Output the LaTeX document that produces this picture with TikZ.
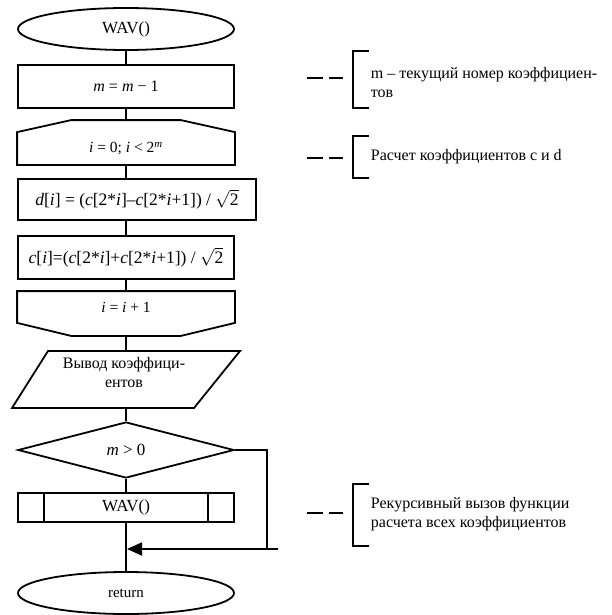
\documentclass[tikz,border=0pt]{standalone}
\usepackage{fontspec}
\setmainfont{Liberation Serif}
\usetikzlibrary{shapes.geometric,arrows.meta,calc}

\newcommand{\fs}[1]{\fontsize{#1}{19}\selectfont}

\begin{document}
\begin{tikzpicture}[x=1pt, y=-1pt, line width=1.8pt,
  every node/.style={font=\fs{16}, inner sep=0pt, line width=1.8pt},
  term/.style={ellipse, draw, minimum width=216pt, minimum height=42pt},
  proc/.style={rectangle, draw, minimum width=216pt, minimum height=43pt},
  shell/.style={rectangle, minimum width=216pt},
  decide/.style={diamond, draw, minimum width=216pt, minimum height=56pt},
  note/.style={anchor=west, align=left},
  flow/.style={line width=1.8pt},
  bracket/.style={line width=1.8pt},
  leader/.style={line width=1.8pt, dash pattern=on 16pt off 6pt},
  tip/.style={-{Triangle[length=15pt, width=13pt]}}]

\useasboundingbox (0,0) rectangle (612,615);

% --- blocks of the flowchart ---
\node[term, font=\fs{17}] (start) at (126,29) {WAV()};
\node[proc] (r1) at (126,86.5) {\textit{m} = \textit{m} − 1};

% loop start: body plus a chevron roof
\node[shell, minimum height=31pt, font=\fs{15.5}] (lp1) at (126,148.5)
  {\textit{i} = 0; \textit{i} < 2\textsuperscript{\textit{m}}};
\draw (lp1.south west) -- (lp1.north west) -- ($(lp1.north west)+(54,-12)$)
  -- ($(lp1.north east)+(-54,-12)$) -- (lp1.north east) -- (lp1.south east) -- cycle;
\coordinate (lp1top) at ($(lp1.north)+(0,-12)$);

\node[proc, minimum width=238pt, minimum height=41pt, font=\fs{17.5}] (dd) at (137,199.5)
  {\textit{d}[\textit{i}] = (\textit{c}[2*\textit{i}]–\textit{c}[2*\textit{i}+1]) / $\sqrt{\mbox{2}}$};
\node[proc, font=\fs{17.5}] (cc) at (126,257.5)
  {\textit{c}[\textit{i}]=(\textit{c}[2*\textit{i}]+\textit{c}[2*\textit{i}+1]) / $\sqrt{\mbox{2}}$};

% loop end: body plus a chevron floor
\node[shell, minimum height=30pt, font=\fs{15.5}] (lp2) at (126,307) {\textit{i} = \textit{i} + 1};
\draw (lp2.north west) -- (lp2.south west) -- ($(lp2.south west)+(54,13)$)
  -- ($(lp2.south east)+(-54,13)$) -- (lp2.south east) -- (lp2.north east) -- cycle;
\coordinate (lp2bot) at ($(lp2.south)+(0,13)$);

% output block (parallelogram), text sits in its upper part
\node[align=center] (out) at (124,372.5) {Вывод коэффици-\\ентов};
\draw ($(out.center)+(-76,-21.5)$) -- ($(out.center)+(116,-21.5)$)
  -- ($(out.center)+(70,35.5)$) -- ($(out.center)+(-112,35.5)$) -- cycle;
\coordinate (outtop) at ($(lp2bot)+(0,15)$);
\coordinate (outbot) at ($(out.center)+(2,35.5)$);

\node[decide, font=\fs{17}] (dec) at (126,450) {\textit{m} > 0};

% predefined process
\node[proc, minimum height=29pt, font=\fs{17}] (sub) at (126,507.5) {WAV()};
\draw ($(sub.north west)+(27,0)$) -- ($(sub.south west)+(27,0)$);
\draw ($(sub.north east)+(-27,0)$) -- ($(sub.south east)+(-27,0)$);

\node[term, font=\fs{15}] (ret) at (126,593) {return};

% --- connectors ---
\draw[flow] (start.south) -- (r1.north);
\draw[flow] (r1.south) -- (lp1top);
\draw[flow] (lp1.south) -- (lp1.south |- dd.north);
\draw[flow] (lp1.south |- dd.south) -- (cc.north);
\draw[flow] (cc.south) -- (lp2.north);
\draw[flow] (lp2bot) -- (outtop);
\draw[flow] (outbot) -- (dec.north);
\draw[flow] (dec.south) -- (sub.north);
\draw[flow] (sub.south) -- (ret.north);

\coordinate (br) at (267,450);
\coordinate (bd) at (267,549);
\coordinate (stub) at (278,549);
\coordinate (join) at (127,549);
\draw[flow] (dec.east) -- (br) -- (bd);
\draw[flow, tip] (stub) -- (join);

% --- comments ---
\node[note] (n1) at (370,82.5) {m – текущий номер коэффициен-\\тов};
\draw[bracket] (369,51) -- (353,51) -- (353,108) -- (369,108);
\draw[leader] (307,78) -- (343,78);

\node[note] (n2) at (370,157) {Расчет коэффициентов с и d};
\draw[bracket] (369,136) -- (353,136) -- (353,178) -- (369,178);
\draw[leader] (307,158) -- (343,158);

\node[note] (n3) at (370,514.5) {Рекурсивный вызов функции\\расчета всех коэффициентов};
\draw[bracket] (369,484) -- (353,484) -- (353,546) -- (369,546);
\draw[leader] (307,513) -- (343,513);
\end{tikzpicture}
\end{document}
